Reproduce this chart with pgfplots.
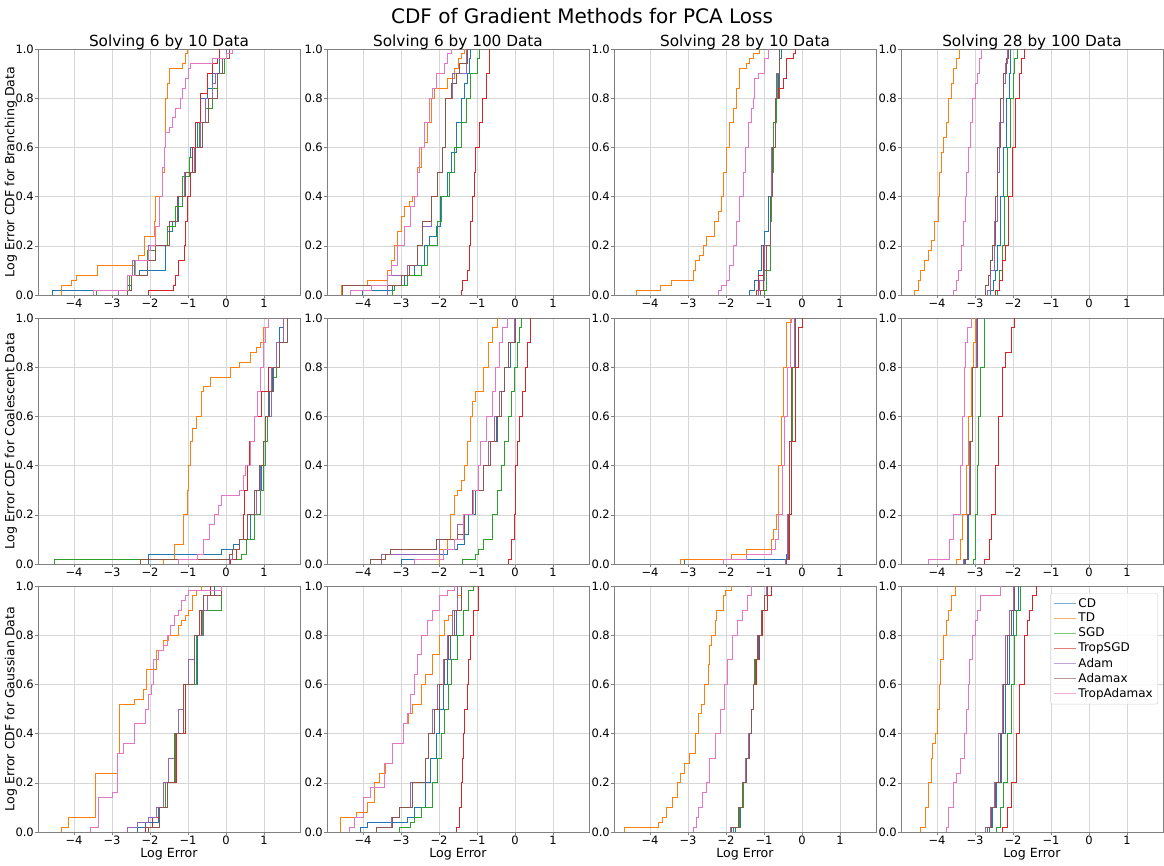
\documentclass[border=0pt]{standalone}
\usepackage{fontspec}
\setmainfont{DejaVu Sans}
\usepackage{pgfplots}
\pgfplotsset{compat=1.18}
\definecolor{cCD}{HTML}{1F77B4}
\definecolor{cTD}{HTML}{FF7F0E}
\definecolor{cSGD}{HTML}{2CA02C}
\definecolor{cTS}{HTML}{D62728}
\definecolor{cAd}{HTML}{9467BD}
\definecolor{cAx}{HTML}{8C564B}
\definecolor{cTA}{HTML}{E377C2}
\newcommand{\ser}[1]{\addplot coordinates {#1};}
\pgfplotsset{
  panel/.style={
    anchor=north west, width=262pt, height=246pt, scale only axis,
    xmin=-4.95, xmax=1.95, ymin=0, ymax=1,
    xtick={-4,-3,-2,-1,0,1}, xticklabels={−4,−3,−2,−1,0,1},
    ytick={0,0.2,0.4,0.6,0.8,1}, yticklabels={0.0,0.2,0.4,0.6,0.8,1.0},
    grid=major, major grid style={draw=black!16, line width=0.6pt},
    axis line style={draw=black!50, line width=0.8pt},
    tick pos=left, tick align=outside, major tick length=3pt,
    tick style={draw=black!50, line width=0.6pt},
    tick label style={font=\fontsize{11.5}{12}\selectfont},
    xticklabel style={inner sep=1pt}, yticklabel style={inner sep=1pt},
    every axis title/.style={font=\fontsize{15.3}{17}\selectfont, at={(axis description cs:0.5,1)}, anchor=base, yshift=3pt},
    label style={font=\fontsize{12.6}{14}\selectfont},
    ylabel style={at={(axis description cs:-0.103,0.5)}, anchor=center},
    xlabel style={at={(axis description cs:0.5,-0.09)}, anchor=center},
    cycle list={{cCD},{cTD},{cSGD},{cTS},{cAd},{cAx},{cTA}},
    every axis plot/.append style={const plot, line width=0.9pt},
  },
}
\begin{document}
\begin{tikzpicture}
\useasboundingbox (0,0) rectangle (1164pt,-865pt);
\node at (582pt,-16pt) {\fontsize{20}{24}\selectfont CDF of Gradient Methods for PCA Loss};

% ---- row 1: branching data
\begin{axis}[panel, at={(38pt,-49pt)}, title={Solving 6 by 10 Data}, ylabel={Log Error CDF for Branching Data}]
\ser{(-4.57,0)(-4.57,0.02)(-2.6,0.04)(-2.5,0.08)(-2.29,0.1)(-1.59,0.2)(-1.55,0.26)(-1.42,0.3)(-1.24,0.4)(-1.1,0.5)(-0.97,0.56)(-0.93,0.6)(-0.75,0.7)(-0.67,0.8)(-0.5,0.84)(-0.36,0.9)(-0.18,0.96)(0,1)}
\ser{(-4.33,0)(-4.33,0.04)(-4.06,0.06)(-3.94,0.08)(-3.39,0.12)(-2.38,0.14)(-2.30,0.16)(-2.14,0.24)(-1.89,0.3)(-1.86,0.4)(-1.68,0.5)(-1.63,0.6)(-1.59,0.8)(-1.55,0.86)(-1.50,0.92)(-1.15,0.94)(-1.06,0.98)(-1.02,1)}
\ser{(-3.42,0)(-3.42,0.02)(-2.55,0.08)(-2.41,0.14)(-2.07,0.18)(-1.85,0.2)(-1.54,0.28)(-1.32,0.36)(-1.15,0.48)(-0.97,0.56)(-0.89,0.6)(-0.71,0.7)(-0.54,0.76)(-0.36,0.84)(-0.23,0.9)(-0.05,0.96)(0.08,1)}
\ser{(-2.03,0)(-2.03,0.02)(-1.37,0.04)(-1.32,0.08)(-1.24,0.14)(-1.1,0.2)(-1.06,0.3)(-1.02,0.4)(-0.93,0.5)(-0.89,0.6)(-0.8,0.7)(-0.67,0.82)(-0.5,0.9)(-0.36,0.94)(-0.23,0.96)(-0.18,1)}
\ser{(-2.83,0)(-2.83,0.02)(-2.6,0.08)(-2.46,0.14)(-2.03,0.2)(-1.5,0.3)(-1.28,0.4)(-1.1,0.5)(-0.84,0.6)(-0.67,0.7)(-0.54,0.8)(-0.36,0.86)(-0.27,0.9)(-0.1,0.96)(0,1)}
\ser{(-2.6,0)(-2.6,0.02)(-2.5,0.08)(-2.07,0.14)(-1.85,0.2)(-1.5,0.3)(-1.28,0.4)(-1.06,0.5)(-0.8,0.6)(-0.62,0.7)(-0.45,0.8)(-0.23,0.9)(-0.1,0.96)(0.08,1)}
\ser{(-3.49,0)(-3.49,0.02)(-2.6,0.08)(-2.38,0.14)(-2.03,0.18)(-1.98,0.2)(-1.85,0.28)(-1.76,0.4)(-1.68,0.52)(-1.63,0.6)(-1.59,0.66)(-1.5,0.68)(-1.41,0.72)(-1.32,0.76)(-1.19,0.8)(-1.15,0.84)(-1.06,0.88)(-0.99,0.92)(-0.93,0.94)(-0.36,0.96)(0,0.98)(0.17,1)}
\end{axis}
\begin{axis}[panel, at={(327pt,-49pt)}, title={Solving 6 by 100 Data}]
\ser{(-4.01,0)(-4.01,0.02)(-3.22,0.04)(-2.91,0.08)(-2.65,0.12)(-2.39,0.2)(-2.26,0.24)(-2.08,0.28)(-1.95,0.4)(-1.77,0.5)(-1.68,0.58)(-1.55,0.7)(-1.42,0.8)(-1.33,0.86)(-1.25,0.9)(-1.2,0.96)(-1.16,1)}
\ser{(-4.58,0)(-4.58,0.04)(-3.89,0.06)(-3.35,0.1)(-3.26,0.14)(-3.18,0.2)(-3.09,0.26)(-3.0,0.32)(-2.91,0.36)(-2.78,0.38)(-2.69,0.4)(-2.56,0.52)(-2.47,0.6)(-2.39,0.62)(-2.3,0.7)(-2.21,0.8)(-2.12,0.84)(-1.77,0.88)(-1.6,0.92)(-1.5,0.96)(-1.42,0.98)(-1.33,1)}
\ser{(-3.22,0)(-3.22,0.02)(-3.18,0.04)(-2.82,0.08)(-2.47,0.12)(-2.3,0.2)(-2.03,0.3)(-1.93,0.4)(-1.73,0.5)(-1.6,0.6)(-1.42,0.7)(-1.29,0.8)(-1.16,0.9)(-0.98,0.96)(-0.94,1)}
\ser{(-1.42,0)(-1.42,0.02)(-1.38,0.06)(-1.25,0.1)(-1.2,0.2)(-1.16,0.3)(-1.11,0.4)(-1.07,0.5)(-1.03,0.6)(-0.94,0.7)(-0.85,0.8)(-0.76,0.9)(-0.68,1)}
\ser{(-3.35,0)(-3.35,0.08)(-2.82,0.12)(-2.56,0.2)(-2.43,0.28)(-2.21,0.4)(-2.03,0.5)(-1.9,0.6)(-1.82,0.8)(-1.64,0.9)(-1.29,1)}
\ser{(-4.54,0)(-4.54,0.04)(-3.0,0.08)(-2.78,0.12)(-2.56,0.2)(-2.43,0.3)(-2.21,0.4)(-2.03,0.5)(-1.9,0.6)(-1.82,0.8)(-1.68,0.86)(-1.55,0.9)(-1.46,0.94)(-1.25,1)}
\ser{(-4.32,0)(-4.32,0.02)(-3.79,0.04)(-3.35,0.08)(-3.26,0.12)(-3.09,0.2)(-2.91,0.28)(-2.74,0.36)(-2.65,0.4)(-2.58,0.5)(-2.52,0.6)(-2.39,0.7)(-2.26,0.8)(-2.17,0.84)(-2.08,0.9)(-1.86,0.94)(-1.79,0.98)(-1.68,1)}
\end{axis}
\begin{axis}[panel, at={(614pt,-49pt)}, title={Solving 28 by 10 Data}]
\ser{(-1.37,0)(-1.37,0.02)(-1.24,0.06)(-1.15,0.1)(-1.06,0.2)(-0.98,0.26)(-0.89,0.4)(-0.8,0.6)(-0.71,0.8)(-0.63,0.9)(-0.58,0.96)(-0.54,1)}
\ser{(-4.36,0)(-4.36,0.02)(-3.73,0.04)(-3.44,0.06)(-2.85,0.1)(-2.8,0.14)(-2.71,0.16)(-2.6,0.2)(-2.52,0.24)(-2.3,0.3)(-2.21,0.34)(-2.12,0.4)(-2.06,0.5)(-1.99,0.6)(-1.9,0.7)(-1.81,0.76)(-1.72,0.84)(-1.64,0.92)(-1.46,0.94)(-1.37,0.96)(-1.28,0.98)(-1.13,1)}
\ser{(-0.98,0)(-0.98,0.02)(-0.93,0.1)(-0.84,0.3)(-0.8,0.5)(-0.76,0.7)(-0.67,0.9)(-0.6,1)}
\ser{(-1.2,0)(-1.2,0.02)(-1.15,0.08)(-1.02,0.2)(-0.84,0.4)(-0.8,0.6)(-0.71,0.8)(-0.62,0.84)(-0.49,0.88)(-0.4,0.96)(-0.23,0.98)(-0.16,1)}
\ser{(-1.15,0)(-1.15,0.02)(-1.11,0.06)(-0.98,0.2)(-0.84,0.4)(-0.8,0.6)(-0.71,0.8)(-0.65,0.9)(-0.6,1)}
\ser{(-1.1,0)(-1.1,0.02)(-1.02,0.1)(-0.93,0.2)(-0.84,0.4)(-0.78,0.6)(-0.71,0.8)(-0.6,1)}
\ser{(-2.21,0)(-2.21,0.02)(-2.12,0.04)(-1.99,0.06)(-1.9,0.12)(-1.81,0.2)(-1.72,0.3)(-1.64,0.4)(-1.55,0.5)(-1.5,0.6)(-1.42,0.7)(-1.33,0.76)(-1.28,0.8)(-1.24,0.88)(-1.15,0.9)(-0.98,0.96)(-0.89,1)}
\end{axis}
\begin{axis}[panel, at={(901pt,-49pt)}, title={Solving 28 by 100 Data}]
\ser{(-2.6,0)(-2.6,0.02)(-2.51,0.06)(-2.46,0.1)(-2.4,0.2)(-2.33,0.4)(-2.26,0.6)(-2.17,0.8)(-2.1,0.9)(-2.06,1)}
\ser{(-4.6,0)(-4.6,0.02)(-4.5,0.06)(-4.44,0.1)(-4.33,0.14)(-4.24,0.18)(-4.15,0.22)(-4.06,0.3)(-3.97,0.4)(-3.93,0.5)(-3.88,0.58)(-3.84,0.64)(-3.75,0.7)(-3.71,0.8)(-3.62,0.86)(-3.57,0.92)(-3.48,0.96)(-3.4,1)}
\ser{(-2.42,0)(-2.42,0.02)(-2.35,0.1)(-2.28,0.2)(-2.22,0.4)(-2.15,0.6)(-2.06,0.8)(-1.99,0.9)(-1.95,0.96)(-1.88,1)}
\ser{(-2.46,0)(-2.46,0.02)(-2.37,0.06)(-2.28,0.14)(-2.2,0.2)(-2.11,0.4)(-2.02,0.6)(-1.93,0.8)(-1.84,0.9)(-1.78,0.96)(-1.71,1)}
\ser{(-2.68,0)(-2.68,0.02)(-2.6,0.1)(-2.5,0.3)(-2.42,0.5)(-2.35,0.7)(-2.26,0.86)(-2.2,0.94)(-2.14,1)}
\ser{(-2.73,0)(-2.73,0.04)(-2.64,0.08)(-2.6,0.14)(-2.55,0.2)(-2.46,0.4)(-2.4,0.6)(-2.33,0.8)(-2.24,0.9)(-2.17,0.96)(-2.11,1)}
\ser{(-3.57,0)(-3.57,0.02)(-3.5,0.06)(-3.44,0.1)(-3.35,0.2)(-3.3,0.3)(-3.26,0.4)(-3.22,0.5)(-3.17,0.6)(-3.13,0.7)(-3.08,0.8)(-3.0,0.86)(-2.93,0.9)(-2.88,0.96)(-2.82,1)}
\end{axis}

% ---- row 2: coalescent data
\begin{axis}[panel, at={(38pt,-318pt)}, ylabel={Log Error CDF for Coalescent Data}]
\ser{(-2.03,0)(-2.03,0.04)(-0.11,0.06)(0.21,0.08)(0.36,0.1)(0.65,0.2)(0.8,0.3)(0.94,0.4)(1.0,0.5)(1.05,0.6)(1.13,0.7)(1.23,0.8)(1.32,0.9)(1.42,0.96)(1.51,1)}
\ser{(-1.65,0)(-1.65,0.02)(-1.36,0.08)(-1.11,0.2)(-1.02,0.3)(-0.98,0.4)(-0.94,0.5)(-0.88,0.55)(-0.79,0.6)(-0.65,0.7)(-0.59,0.72)(-0.4,0.76)(0.13,0.8)(0.36,0.82)(0.65,0.86)(0.79,0.88)(0.9,0.9)(0.98,0.96)(1.13,1)}
\ser{(-4.52,0)(-4.52,0.02)(0.42,0.04)(0.55,0.1)(0.75,0.2)(0.9,0.3)(0.98,0.4)(1.03,0.5)(1.09,0.6)(1.19,0.7)(1.26,0.76)(1.32,0.8)(1.42,0.9)(1.61,1)}
\ser{(0.13,0)(0.13,0.02)(0.27,0.06)(0.36,0.1)(0.46,0.2)(0.5,0.3)(0.56,0.4)(0.61,0.5)(0.75,0.6)(0.94,0.7)(1.13,0.8)(1.32,0.9)(1.51,1)}
\ser{(0.08,0)(0.08,0.02)(0.17,0.06)(0.36,0.1)(0.56,0.2)(0.79,0.3)(0.9,0.4)(0.98,0.5)(1.05,0.6)(1.19,0.8)(1.32,0.9)(1.51,1)}
\ser{(-2.26,0)(-2.26,0.02)(0.08,0.04)(0.17,0.06)(0.36,0.1)(0.56,0.2)(0.75,0.3)(0.88,0.4)(0.98,0.5)(1.05,0.6)(1.15,0.7)(1.26,0.8)(1.4,0.9)(1.61,1)}
\ser{(-1.26,0)(-1.26,0.02)(-0.75,0.04)(-0.59,0.1)(-0.44,0.16)(-0.31,0.2)(-0.21,0.24)(-0.11,0.28)(0.36,0.3)(0.46,0.36)(0.52,0.4)(0.65,0.5)(0.75,0.6)(0.84,0.7)(0.9,0.8)(0.98,0.9)(1.03,0.96)(1.13,1)}
\end{axis}
\begin{axis}[panel, at={(327pt,-318pt)}]
\ser{(-3.0,0)(-3.0,0.02)(-1.98,0.04)(-1.79,0.06)(-1.51,0.08)(-1.32,0.12)(-1.22,0.2)(-1.03,0.3)(-0.84,0.4)(-0.65,0.5)(-0.46,0.6)(-0.36,0.7)(-0.27,0.8)(-0.13,0.9)(-0.02,1)}
\ser{(-1.98,0)(-1.98,0.06)(-1.79,0.1)(-1.7,0.2)(-1.6,0.28)(-1.51,0.3)(-1.41,0.34)(-1.32,0.4)(-1.26,0.5)(-1.18,0.6)(-1.13,0.66)(-1.03,0.7)(-0.84,0.8)(-0.69,0.9)(-0.59,0.96)(-0.46,1)}
\ser{(-1.37,0)(-1.37,0.02)(-1.03,0.04)(-0.97,0.06)(-0.84,0.1)(-0.59,0.2)(-0.46,0.3)(-0.36,0.4)(-0.27,0.5)(-0.17,0.6)(-0.08,0.7)(-0.02,0.8)(0.06,0.9)(0.11,0.96)(0.17,1)}
\ser{(-0.17,0)(-0.17,0.02)(-0.08,0.1)(-0.02,0.2)(0.02,0.4)(0.06,0.5)(0.13,0.6)(0.21,0.7)(0.27,0.8)(0.32,0.9)(0.4,1)}
\ser{(-3.51,0)(-3.51,0.04)(-1.98,0.1)(-1.51,0.16)(-1.35,0.2)(-1.09,0.3)(-0.84,0.4)(-0.69,0.5)(-0.55,0.6)(-0.4,0.7)(-0.27,0.8)(-0.17,0.9)(-0.02,1)}
\ser{(-3.8,0)(-3.8,0.02)(-3.42,0.04)(-3.28,0.06)(-2.08,0.1)(-1.51,0.12)(-1.32,0.2)(-1.13,0.3)(-0.84,0.4)(-0.65,0.5)(-0.5,0.6)(-0.36,0.7)(-0.27,0.8)(-0.17,0.9)(0.02,1)}
\ser{(-2.65,0)(-2.65,0.02)(-1.89,0.06)(-1.6,0.1)(-1.35,0.2)(-1.09,0.3)(-0.97,0.4)(-0.9,0.5)(-0.74,0.6)(-0.59,0.7)(-0.52,0.8)(-0.4,0.9)(-0.32,0.96)(-0.21,1)}
\end{axis}
\begin{axis}[panel, at={(614pt,-318pt)}]
\ser{(-3.1,0)(-3.1,0.02)(-0.42,0.04)(-0.38,0.2)(-0.33,0.5)(-0.27,0.8)(-0.19,1)}
\ser{(-3.19,0)(-3.19,0.02)(-1.85,0.04)(-1.47,0.06)(-0.8,0.1)(-0.75,0.14)(-0.67,0.2)(-0.61,0.4)(-0.55,0.6)(-0.49,0.8)(-0.4,0.98)(-0.29,1)}
\ser{(-0.42,0)(-0.42,0.02)(-0.36,0.2)(-0.32,0.5)(-0.26,0.8)(-0.17,1)}
\ser{(-0.42,0)(-0.42,0.02)(-0.33,0.2)(-0.27,0.5)(-0.18,0.8)(-0.1,0.96)(0.02,1)}
\ser{(-0.44,0)(-0.44,0.02)(-0.38,0.2)(-0.33,0.5)(-0.28,0.8)(-0.2,1)}
\ser{(-0.4,0)(-0.4,0.02)(-0.36,0.2)(-0.32,0.5)(-0.27,0.8)(-0.18,1)}
\ser{(-2.08,0)(-2.08,0.02)(-1.47,0.04)(-0.8,0.06)(-0.7,0.1)(-0.61,0.2)(-0.52,0.4)(-0.46,0.6)(-0.38,0.8)(-0.3,1)}
\end{axis}
\begin{axis}[panel, at={(901pt,-318pt)}]
\ser{(-3.25,0)(-3.25,0.02)(-3.18,0.2)(-3.12,0.5)(-3.06,0.8)(-2.95,1)}
\ser{(-3.48,0)(-3.48,0.02)(-3.38,0.1)(-3.33,0.2)(-3.23,0.4)(-3.18,0.6)(-3.1,0.8)(-3.04,0.9)(-3.0,1)}
\ser{(-3.04,0)(-3.04,0.02)(-2.98,0.2)(-2.94,0.4)(-2.9,0.6)(-2.85,0.8)(-2.76,1)}
\ser{(-2.76,0)(-2.76,0.02)(-2.62,0.1)(-2.57,0.2)(-2.47,0.4)(-2.38,0.6)(-2.28,0.8)(-2.19,0.86)(-2.05,0.96)(-1.96,1)}
\ser{(-3.3,0)(-3.3,0.02)(-3.2,0.2)(-3.14,0.5)(-3.08,0.8)(-2.96,1)}
\ser{(-3.28,0)(-3.28,0.02)(-3.19,0.2)(-3.13,0.5)(-3.07,0.8)(-2.95,1)}
\ser{(-4.24,0)(-4.24,0.02)(-3.67,0.1)(-3.57,0.2)(-3.38,0.4)(-3.33,0.6)(-3.29,0.8)(-3.25,0.9)(-3.19,0.96)(-3.1,1)}
\end{axis}

% ---- row 3: gaussian data
\begin{axis}[panel, at={(38pt,-586pt)}, ylabel={Log Error CDF for Gaussian Data}, xlabel={Log Error}]
\ser{(-2.32,0)(-2.32,0.02)(-2.13,0.04)(-1.78,0.1)(-1.59,0.2)(-1.36,0.4)(-1.07,0.6)(-0.75,0.8)(-0.63,0.9)(-0.5,0.96)(-0.31,1)}
\ser{(-4.33,0)(-4.33,0.02)(-4.14,0.06)(-3.43,0.24)(-2.85,0.32)(-2.8,0.52)(-2.41,0.54)(-2.16,0.58)(-2.09,0.66)(-1.84,0.74)(-1.65,0.78)(-1.51,0.8)(-1.26,0.84)(-1.17,0.86)(-1.07,0.88)(-0.98,0.9)(-0.88,0.96)(-0.79,0.98)(-0.65,1)}
\ser{(-2.03,0)(-2.03,0.02)(-1.94,0.06)(-1.74,0.1)(-1.59,0.2)(-1.32,0.4)(-1.07,0.6)(-0.79,0.8)(-0.59,0.9)(-0.11,1)}
\ser{(-2.13,0)(-2.13,0.02)(-1.94,0.06)(-1.74,0.1)(-1.55,0.2)(-1.3,0.4)(-1.07,0.6)(-0.82,0.8)(-0.65,0.9)(-0.5,0.96)(-0.4,1)}
\ser{(-2.6,0)(-2.6,0.02)(-2.32,0.04)(-2.03,0.06)(-1.84,0.1)(-1.65,0.2)(-1.51,0.3)(-1.36,0.4)(-1.26,0.5)(-1.13,0.6)(-0.98,0.7)(-0.82,0.8)(-0.63,0.9)(-0.5,0.96)(-0.11,1)}
\ser{(-2.03,0)(-2.03,0.02)(-1.74,0.1)(-1.55,0.2)(-1.36,0.4)(-1.11,0.6)(-0.82,0.8)(-0.69,0.9)(-0.59,0.96)(-0.11,1)}
\ser{(-3.56,0)(-3.56,0.02)(-3.37,0.14)(-2.99,0.16)(-2.85,0.32)(-2.7,0.36)(-2.41,0.44)(-2.13,0.5)(-2.03,0.56)(-1.97,0.6)(-1.9,0.7)(-1.78,0.74)(-1.65,0.76)(-1.55,0.8)(-1.46,0.84)(-1.36,0.88)(-1.26,0.9)(-1.17,0.94)(-1.07,0.96)(-0.98,0.98)(-0.11,1)}
\end{axis}
\begin{axis}[panel, at={(327pt,-586pt)}, xlabel={Log Error}]
\ser{(-4.08,0)(-4.08,0.02)(-3.89,0.04)(-2.84,0.06)(-2.65,0.1)(-2.37,0.2)(-2.23,0.3)(-2.08,0.4)(-1.98,0.5)(-1.89,0.6)(-1.79,0.7)(-1.7,0.8)(-1.55,0.9)(-1.41,1)}
\ser{(-4.6,0)(-4.6,0.06)(-4.18,0.08)(-3.89,0.12)(-3.7,0.2)(-3.57,0.24)(-3.42,0.28)(-3.23,0.36)(-2.94,0.44)(-2.81,0.48)(-2.69,0.52)(-2.46,0.6)(-2.37,0.64)(-2.18,0.72)(-1.98,0.8)(-1.85,0.86)(-1.74,0.88)(-1.64,0.9)(-1.51,0.96)(-1.41,1)}
\ser{(-3.03,0)(-3.03,0.02)(-2.75,0.04)(-2.65,0.06)(-2.46,0.1)(-2.18,0.2)(-2.04,0.3)(-1.93,0.4)(-1.85,0.5)(-1.74,0.6)(-1.66,0.7)(-1.51,0.8)(-1.35,0.9)(-1.22,0.98)(-1.09,1)}
\ser{(-1.55,0)(-1.55,0.02)(-1.47,0.1)(-1.41,0.2)(-1.37,0.3)(-1.35,0.4)(-1.32,0.5)(-1.26,0.6)(-1.22,0.7)(-1.16,0.8)(-1.09,0.9)(-0.97,1)}
\ser{(-3.65,0)(-3.65,0.02)(-3.26,0.06)(-3.03,0.1)(-2.75,0.2)(-2.37,0.3)(-2.27,0.4)(-2.18,0.5)(-2.04,0.6)(-1.89,0.7)(-1.79,0.8)(-1.64,0.9)(-1.51,1)}
\ser{(-3.65,0)(-3.65,0.02)(-3.23,0.06)(-3.03,0.1)(-2.69,0.2)(-2.37,0.3)(-2.27,0.4)(-2.12,0.5)(-1.98,0.6)(-1.85,0.7)(-1.74,0.8)(-1.6,0.9)(-1.41,1)}
\ser{(-4.37,0)(-4.37,0.02)(-4.22,0.06)(-3.99,0.14)(-3.8,0.18)(-3.45,0.28)(-3.23,0.36)(-2.94,0.44)(-2.84,0.48)(-2.75,0.56)(-2.65,0.64)(-2.56,0.72)(-2.46,0.8)(-2.31,0.86)(-2.18,0.9)(-1.98,0.96)(-1.79,0.98)(-1.6,1)}
\end{axis}
\begin{axis}[panel, at={(614pt,-586pt)}, xlabel={Log Error}]
\ser{(-1.76,0)(-1.76,0.02)(-1.62,0.1)(-1.55,0.2)(-1.45,0.3)(-1.38,0.4)(-1.32,0.5)(-1.28,0.6)(-1.22,0.7)(-1.15,0.8)(-1.05,0.9)(-0.99,0.96)(-0.92,1)}
\ser{(-4.67,0)(-4.67,0.02)(-3.77,0.04)(-3.67,0.06)(-3.58,0.1)(-3.42,0.14)(-3.29,0.2)(-3.19,0.24)(-3.1,0.28)(-2.96,0.32)(-2.81,0.4)(-2.72,0.48)(-2.66,0.52)(-2.58,0.6)(-2.47,0.68)(-2.43,0.76)(-2.39,0.8)(-2.28,0.86)(-2.24,0.9)(-2.08,0.96)(-2.01,0.98)(-1.85,1)}
\ser{(-1.8,0)(-1.8,0.02)(-1.64,0.1)(-1.55,0.2)(-1.47,0.3)(-1.38,0.4)(-1.33,0.5)(-1.28,0.6)(-1.24,0.7)(-1.18,0.8)(-1.08,0.9)(-1.0,0.96)(-0.9,1)}
\ser{(-1.85,0)(-1.85,0.02)(-1.68,0.1)(-1.58,0.2)(-1.47,0.3)(-1.4,0.4)(-1.33,0.5)(-1.27,0.6)(-1.2,0.7)(-1.12,0.8)(-1.03,0.9)(-0.9,0.96)(-0.8,1)}
\ser{(-1.89,0)(-1.89,0.02)(-1.66,0.1)(-1.57,0.2)(-1.48,0.3)(-1.4,0.4)(-1.34,0.5)(-1.29,0.6)(-1.23,0.7)(-1.17,0.8)(-1.08,0.9)(-1.0,0.96)(-0.94,1)}
\ser{(-1.86,0)(-1.86,0.02)(-1.66,0.1)(-1.56,0.2)(-1.47,0.3)(-1.39,0.4)(-1.33,0.5)(-1.28,0.6)(-1.22,0.7)(-1.16,0.8)(-1.06,0.9)(-0.99,0.96)(-0.92,1)}
\ser{(-2.85,0)(-2.85,0.02)(-2.77,0.06)(-2.72,0.1)(-2.62,0.16)(-2.52,0.2)(-2.43,0.3)(-2.28,0.4)(-2.14,0.5)(-2.05,0.6)(-1.95,0.7)(-1.82,0.8)(-1.7,0.86)(-1.57,0.9)(-1.43,0.96)(-1.32,1)}
\end{axis}
\begin{axis}[panel, at={(901pt,-586pt)}, xlabel={Log Error},
  legend style={at={(1,1)}, anchor=north east, xshift=-5pt, yshift=-7pt,
    font=\fontsize{12}{14}\selectfont, draw=black!18, rounded corners=2pt,
    fill=white, fill opacity=0.85, text opacity=1, row sep=0.6pt, inner sep=3pt},
  legend cell align=left,
  legend image code/.code={\draw[#1, opacity=0.6] (0pt,0pt) -- (22pt,0pt);}]
\ser{(-2.62,0)(-2.62,0.02)(-2.53,0.1)(-2.43,0.2)(-2.3,0.4)(-2.19,0.6)(-2.09,0.8)(-2.0,0.9)(-1.86,1)}
\ser{(-4.43,0)(-4.43,0.02)(-4.3,0.1)(-4.24,0.2)(-4.14,0.3)(-4.11,0.36)(-4.05,0.4)(-3.99,0.5)(-3.95,0.6)(-3.9,0.7)(-3.82,0.8)(-3.76,0.86)(-3.71,0.9)(-3.61,0.96)(-3.52,1)}
\ser{(-2.43,0)(-2.43,0.02)(-2.34,0.1)(-2.24,0.2)(-2.15,0.4)(-2.05,0.6)(-1.96,0.8)(-1.92,0.9)(-1.8,1)}
\ser{(-2.28,0)(-2.28,0.02)(-2.15,0.1)(-2.05,0.2)(-1.92,0.4)(-1.83,0.6)(-1.71,0.8)(-1.62,0.86)(-1.58,0.9)(-1.48,0.96)(-1.39,1)}
\ser{(-2.72,0)(-2.72,0.02)(-2.59,0.1)(-2.49,0.2)(-2.38,0.4)(-2.28,0.6)(-2.19,0.8)(-2.09,0.9)(-2.0,1)}
\ser{(-2.68,0)(-2.68,0.02)(-2.57,0.1)(-2.47,0.2)(-2.34,0.4)(-2.24,0.6)(-2.15,0.8)(-2.05,0.9)(-1.96,1)}
\ser{(-3.76,0)(-3.76,0.02)(-3.71,0.1)(-3.57,0.2)(-3.48,0.24)(-3.38,0.3)(-3.29,0.4)(-3.23,0.5)(-3.17,0.6)(-3.14,0.7)(-3.06,0.8)(-3.0,0.86)(-2.95,0.9)(-2.87,0.96)(-2.34,1)}
\legend{CD,TD,SGD,TropSGD,Adam,Adamax,TropAdamax}
\end{axis}
\end{tikzpicture}
\end{document}
